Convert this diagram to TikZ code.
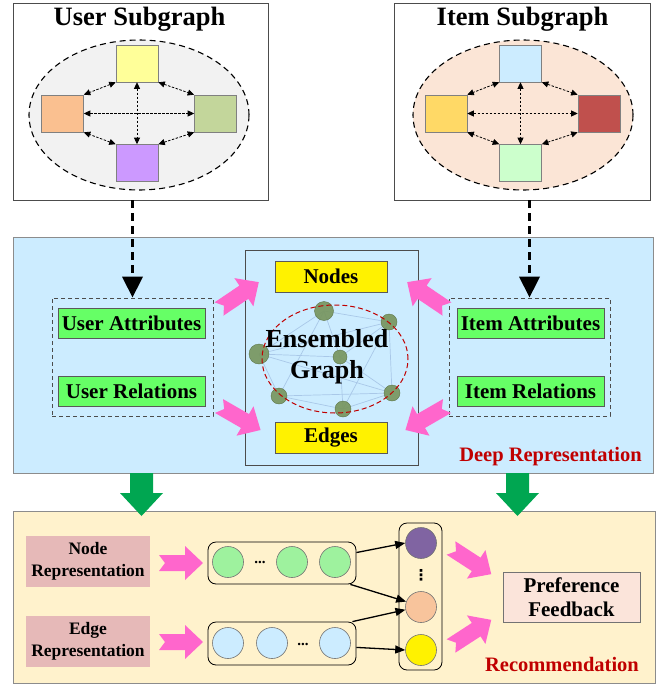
\documentclass[tikz,border=0pt]{standalone}
\usepackage{fontspec}
\setmainfont{Liberation Serif}
\newfontfamily\symfont{DejaVu Sans}
\usetikzlibrary{calc,arrows.meta,positioning,shapes.geometric}

\definecolor{panelblue}{HTML}{CCECFF}
\definecolor{panelcream}{HTML}{FFF2CC}
\definecolor{arrowpink}{HTML}{FF66CC}
\definecolor{arrowgreen}{HTML}{00A651}
\definecolor{attrgreen}{HTML}{66FF66}
\definecolor{repred}{HTML}{E6B9B8}
\definecolor{darkred}{HTML}{C00000}
\definecolor{gnode}{HTML}{76945C}
\definecolor{gedge}{HTML}{A9C8E8}
\definecolor{sqyellow}{HTML}{FFFF99}
\definecolor{sqorange}{HTML}{FAC090}
\definecolor{sqgreen}{HTML}{C3D69B}
\definecolor{sqpurple}{HTML}{CC99FF}
\definecolor{sqgold}{HTML}{FFD966}
\definecolor{sqred}{HTML}{C0504D}
\definecolor{sqmint}{HTML}{CCFFCC}
\definecolor{ellgray}{HTML}{F2F2F2}
\definecolor{ellpeach}{HTML}{FBE5D6}
\definecolor{prefpink}{HTML}{FBE4DA}
\definecolor{circgreen}{HTML}{9EF29E}
\definecolor{circpurple}{HTML}{8064A2}
\definecolor{circorange}{HTML}{F8C49C}

\newcommand{\NotchArrow}[3]% #1=tail point, #2=angle, #3=length
{\fill[arrowpink, shift={(#1)}, rotate=#2]
   (0,-8) -- (#3-18,-8) -- (#3-18,-17) -- (#3,0) -- (#3-18,17) -- (#3-18,8) -- (0,8) -- (6,0) -- cycle;
}
\newcommand{\BlockDown}[1]% #1=top point
{\fill[arrowgreen, shift={(#1)}]
   (-11.5,0) -- (11.5,0) -- (11.5,20) -- (21.5,20) -- (0,43) -- (-21.5,20) -- (-11.5,20) -- cycle;
}

\begin{document}
\begin{tikzpicture}[x=1pt,y=-1pt,
    box/.style={draw=black!70, line width=0.8pt, inner sep=0pt},
    panel/.style={draw=black!45, line width=1pt, inner sep=0pt},
    title/.style={font=\fontsize{26.5}{30}\selectfont\bfseries, anchor=base},
    sq/.style={draw=black!50, line width=0.6pt, minimum width=42pt, minimum height=37pt, inner sep=0pt},
    link/.style={line width=0.8pt, dash pattern=on 2.5pt off 1.5pt,
        {Triangle[length=6.5pt,width=6pt]}-{Triangle[length=6.5pt,width=6pt]}},
    bigdash/.style={line width=3.5pt, dash pattern=on 8pt off 5pt, -{Triangle[length=21pt 0,width=20pt 0]}},
    group/.style={draw=black!70, line width=0.8pt, dash pattern=on 4pt off 3pt, inner sep=0pt},
    attr/.style={draw=black!65, line width=0.8pt, fill=attrgreen, minimum width=147pt, minimum height=30pt,
        inner sep=0pt, font=\fontsize{21}{24}\selectfont\bfseries},
    tag/.style={draw=black!65, line width=0.8pt, fill=yellow, minimum width=112pt, minimum height=31pt,
        inner sep=0pt, font=\fontsize{21}{24}\selectfont\bfseries},
    gnodestyle/.style={circle, fill=gnode, fill opacity=0.9, draw=gnode!80!black, inner sep=0pt},
    rep/.style={fill=repred, minimum width=124pt, minimum height=51pt, inner sep=0pt, align=center,
        font=\fontsize{17.5}{22}\selectfont\bfseries},
    cont/.style={draw=black, line width=0.8pt, rounded corners=8pt, fill=panelcream, inner sep=0pt},
    circ/.style={circle, draw=black!55, line width=0.6pt, minimum size=31pt, inner sep=0pt},
    flow/.style={line width=1.3pt, -{Triangle[length=10pt 0,width=8pt 0]}},
    redlabel/.style={text=darkred, font=\fontsize{20.5}{24}\selectfont\bfseries, anchor=base}]

    \useasboundingbox (0,0) rectangle (659,685);

    % user subgraph
    \node[box, fill=white, minimum width=255pt, minimum height=197pt] (userbox) at (140.5,101.5) {};
    \node[title] (usertitle) at (139.5,26) {User Subgraph};
    \node[ellipse, draw, line width=1.1pt, dash pattern=on 6pt off 4pt, fill=ellgray,
        minimum width=220pt, minimum height=150pt] (userell) at (139,115) {};
    \node[sq, fill=sqyellow] (uy) at (137,63.5) {};
    \node[sq, fill=sqorange] (uo) at (62.5,113.5) {};
    \node[sq, fill=sqgreen] (ug) at (215.5,113.5) {};
    \node[sq, fill=sqpurple] (up) at (137,163) {};

    \draw[link] (uy.south west) -- (uo.north east);
    \draw[link] (uy.south east) -- (ug.north west);
    \draw[link] (up.north west) -- (uo.south east);
    \draw[link] (up.north east) -- (ug.south west);
    \draw[link] (uo.east) -- (ug.west);
    \draw[link] (uy.south) -- (up.north);

    % item subgraph
    \node[box, fill=white, minimum width=256pt, minimum height=197pt] (itembox) at (522,101.5) {};
    \node[title] (itemtitle) at (522.5,26) {Item Subgraph};
    \node[ellipse, draw, line width=1.1pt, dash pattern=on 6pt off 4pt, fill=ellpeach,
        minimum width=220pt, minimum height=150pt] (itemell) at (523,115) {};
    \node[sq, fill=panelblue] (ib) at (520.5,63.5) {};
    \node[sq, fill=sqgold] (iy) at (446,113.5) {};
    \node[sq, fill=sqred] (ir) at (599,113.5) {};
    \node[sq, fill=sqmint] (im) at (520.5,163) {};

    \draw[link] (ib.south west) -- (iy.north east);
    \draw[link] (ib.south east) -- (ir.north west);
    \draw[link] (im.north west) -- (iy.south east);
    \draw[link] (im.north east) -- (ir.south west);
    \draw[link] (iy.east) -- (ir.west);
    \draw[link] (ib.south) -- (im.north);

    % deep representation panel
    \node[panel, fill=panelblue, minimum width=640pt, minimum height=236pt] (deep) at (333,355) {};

    \node[group, minimum width=161pt, minimum height=118pt] (usergrp) at (132.5,357) {};
    \node[attr] (uattr) at (131.5,323) {User Attributes};
    \node[attr] (urel) at (131.5,391.5) {User Relations};

    \node[group, minimum width=161pt, minimum height=118pt] (itemgrp) at (529.5,357) {};
    \node[attr] (iattr) at (530.5,323) {Item Attributes};
    \node[attr] (irel) at (530.5,391.5) {Item Relations};

    \draw[bigdash] (usergrp.north |- userbox.south) -- (usergrp.north);
    \draw[bigdash] (itemgrp.north |- itembox.south) -- (itemgrp.north);

    \node[box, minimum width=173pt, minimum height=215pt] (ensbox) at (331.5,357.5) {};
    \node[tag] (nodestag) at (331,276.5) {Nodes};
    \node[tag] (edgestag) at (331,437.5) {Edges};

    \coordinate (g1) at (324,311);
    \coordinate (g2) at (389,322);
    \coordinate (g3) at (259,354);
    \coordinate (g4) at (340,357);
    \coordinate (g5) at (279,396);
    \coordinate (g6) at (392,393);
    \coordinate (g7) at (343,409);

    \foreach \a/\b in {g1/g2, g1/g3, g1/g4, g1/g5, g2/g3, g2/g4, g2/g6, g2/g7,
        g3/g4, g3/g5, g3/g6, g4/g7, g5/g6, g5/g7, g6/g7, g4/g6}
        \draw[gedge, line width=0.7pt] (\a) -- (\b);

    \foreach \n/\d in {g1/19, g2/16, g3/20, g4/14, g5/16, g6/16, g7/16}
        \node[gnodestyle, minimum size=\d pt] (c\n) at (\n) {};

    \node[ellipse, draw=darkred, line width=1pt, dash pattern=on 5pt off 3pt,
        minimum width=146pt, minimum height=108pt] (ensell) at (335,359) {};
    \node[align=center, font=\fontsize{26}{31}\selectfont\bfseries] (enstext) at (327,357) {Ensembled\\Graph};

    \coordinate (pa1) at (219,309);
    \coordinate (pa2) at (219,406);
    \coordinate (pa3) at (447,309);
    \coordinate (pa4) at (447,406);
    \NotchArrow{pa1}{34}{48}
    \NotchArrow{pa2}{-30}{48}
    \NotchArrow{pa3}{146}{48}
    \NotchArrow{pa4}{210}{48}

    \node[redlabel] (deeplabel) at (550.5,461) {Deep Representation};

    % recommendation panel
    \node[panel, fill=panelcream, minimum width=642pt, minimum height=172pt] (recpanel) at (334,597) {};

    \coordinate (ga1) at (141.5,473);
    \coordinate (ga2) at (517.5,473);
    \BlockDown{ga1}
    \BlockDown{ga2}

    \node[rep] (nrep) at (88,561.5) {Node\\Representation};
    \node[rep] (erep) at (88,641) {Edge\\Representation};

    \coordinate (pb1) at (159,563);
    \coordinate (pb2) at (159,642);
    \NotchArrow{pb1}{0}{44}
    \NotchArrow{pb2}{0}{44}

    \node[cont, minimum width=148pt, minimum height=42pt] (gcont) at (282,563) {};
    \node[circ, fill=circgreen] (gc1) at (228,562) {};
    \node[circ, fill=circgreen] (gc2) at (292,562) {};
    \node[circ, fill=circgreen] (gc3) at (335,562) {};
    \node[font=\fontsize{15}{15}\selectfont\bfseries, inner sep=0pt] (gdots) at (260,562) {...};

    \node[cont, minimum width=148pt, minimum height=43pt] (bcont) at (282,643.5) {};
    \node[circ, fill=panelblue] (bc1) at (228,643) {};
    \node[circ, fill=panelblue] (bc2) at (272,643) {};
    \node[circ, fill=panelblue] (bc3) at (335,643) {};
    \node[font=\fontsize{15}{15}\selectfont\bfseries, inner sep=0pt] (bdots) at (303,644) {...};

    \node[cont, minimum width=43pt, minimum height=147pt] (vcont) at (420.5,596.5) {};
    \node[circ, fill=circpurple] (vpur) at (421,543) {};
    \node[circ, fill=circorange] (vorg) at (421,607) {};
    \node[circ, fill=yellow] (vyel) at (421,650) {};
    \node[inner sep=0pt, font=\symfont\fontsize{15}{15}\selectfont\bfseries] (vdots) at (421,575) {⋮};

    \draw[flow] (gcont.8) -- (vpur.west);
    \draw[flow] ([xshift=-6pt]gcont.south east) -- (vorg.160);
    \draw[flow] ([xshift=-4pt]bcont.north east) -- (vorg.190);
    \draw[flow] (bcont.-3) -- (vyel.west);

    \coordinate (pc1) at (451,548);
    \coordinate (pc2) at (451,646);
    \NotchArrow{pc1}{-33}{48}
    \NotchArrow{pc2}{33}{48}

    \node[box, draw=black!55, fill=prefpink, minimum width=137pt, minimum height=50pt, align=center,
        font=\fontsize{21}{24}\selectfont\bfseries] (pref) at (571.5,597) {Preference\\Feedback};
    \node[redlabel] (reclabel) at (562,671) {Recommendation};

\end{tikzpicture}
\end{document}
